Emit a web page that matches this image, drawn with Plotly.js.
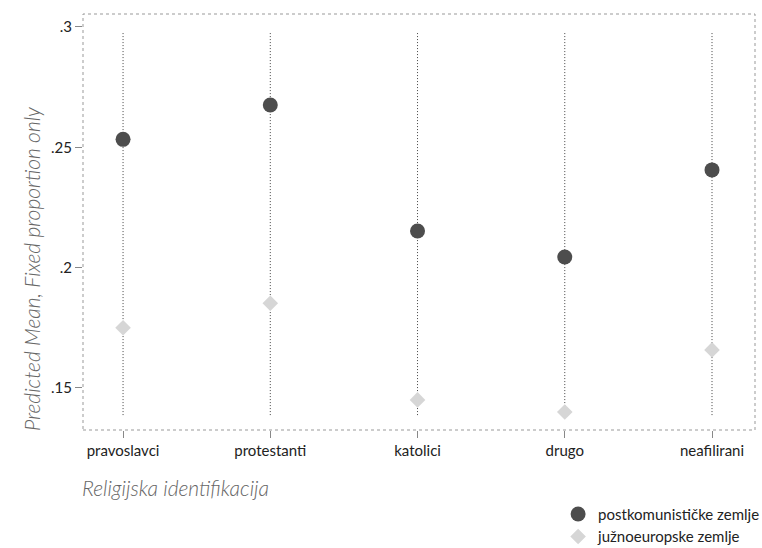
<!DOCTYPE html>
<html>
<head>
<meta charset="utf-8">
<script src="https://cdn.plot.ly/plotly-3.0.1.min.js"></script>
<style>html,body{margin:0;padding:0;background:#fff;}#chart{width:762px;height:548px;}</style>
</head>
<body>
<div id="chart"></div>
<script>
const categories = ["pravoslavci", "protestanti", "katolici", "drugo", "neafilirani"];
const postkomunisticke = [0.2533, 0.2676, 0.2152, 0.2044, 0.2406];
const juznoeuropske = [0.1750, 0.1852, 0.1450, 0.1400, 0.1658];
const lineTop = [0.2975, 0.2975, 0.2975, 0.2975, 0.2975];
const lineBottom = [0.1387, 0.1387, 0.1387, 0.1387, 0.1387];
const yTickVals = [0.15, 0.2, 0.25, 0.3];
const yTickText = [".15", ".2", ".25", ".3"];
const seriesNames = ["postkomunističke zemlje", "južnoeuropske zemlje"];
const yTitle = "Predicted Mean, Fixed proportion only";
const xTitle = "Religijska identifikacija";

const xIdx = categories.map((c, i) => i);
const lx = [], ly = [];
categories.forEach((c, i) => { lx.push(i, i, null); ly.push(lineBottom[i], lineTop[i], null); });

const traces = [
  {x: lx, y: ly, mode: "lines", line: {color: "#444", width: 1, dash: "1px,2px"}, showlegend: false, hoverinfo: "skip"},
  {x: xIdx, y: postkomunisticke, mode: "markers", name: seriesNames[0],
   marker: {symbol: "circle", size: 15, color: "#4d4d4d", line: {width: 0}}},
  {x: xIdx, y: juznoeuropske, mode: "markers", name: seriesNames[1],
   marker: {symbol: "diamond", size: 12, color: "#d6d6d6", line: {width: 0}}}
];

const titleFont = {size: 21, color: "#666", style: "italic", weight: 300};

const layout = {
  width: 762, height: 548,
  margin: {l: 83, r: 7, t: 14, b: 118, autoexpand: false},
  paper_bgcolor: "#fff", plot_bgcolor: "#fff",
  font: {family: "Lato, 'Open Sans', sans-serif", color: "#222", size: 15},
  xaxis: {
    range: [-0.272, 4.292], tickvals: xIdx, ticktext: categories,
    showgrid: false, zeroline: false, showline: false,
    ticks: "outside", ticklen: 7, tickcolor: "#888", tickwidth: 1,
    ticklabelstandoff: 0,
    tickfont: {size: 15, color: "#222"}
  },
  yaxis: {
    range: [0.1325, 0.3054], tickvals: yTickVals, ticktext: yTickText,
    showgrid: false, zeroline: false, showline: false,
    ticks: "outside", ticklen: 7, tickcolor: "#888", tickwidth: 1,
    tickfont: {size: 15, color: "#222"}
  },
  shapes: [{type: "rect", xref: "paper", yref: "paper", x0: 0, x1: 1, y0: 0, y1: 1,
            line: {color: "#999", width: 1, dash: "dot"}}],
  annotations: [
    {text: xTitle, xref: "paper", yref: "paper",
     x: -0.0045, y: -0.139, xanchor: "left", yanchor: "middle", showarrow: false, font: titleFont},
    {text: yTitle, xref: "paper", yref: "paper", textangle: -90,
     x: -0.0774, y: 0.387, xanchor: "center", yanchor: "middle", showarrow: false, font: titleFont}
  ],
  legend: {x: 0.707, y: -0.163, xanchor: "left", yanchor: "top", bgcolor: "rgba(0,0,0,0)",
           font: {size: 15, color: "#222"}, tracegroupgap: 0, itemsizing: "trace"},
  showlegend: true
};

Plotly.newPlot("chart", traces, layout, {displayModeBar: false, staticPlot: true});
</script>
</body>
</html>
